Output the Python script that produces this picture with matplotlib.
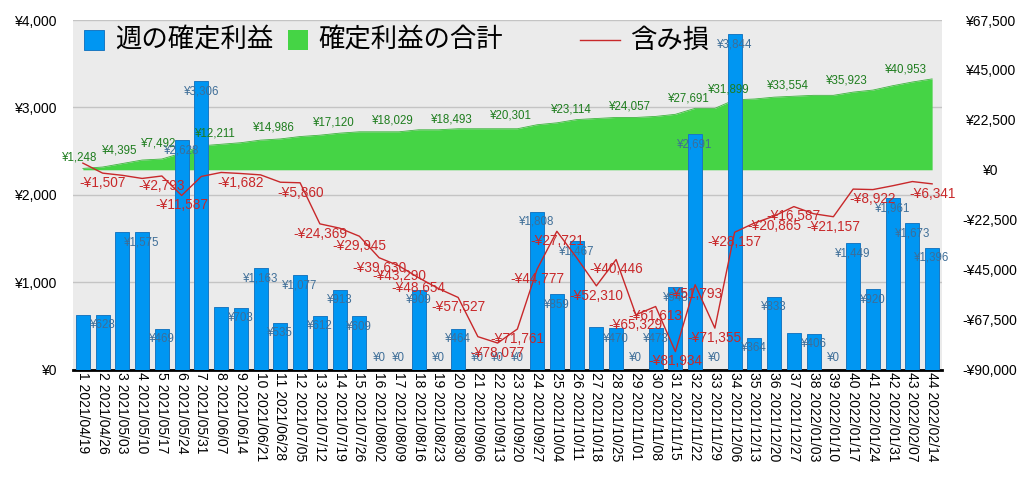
import matplotlib.pyplot as plt
import matplotlib.patches as mpatches
import matplotlib.lines as mlines
import numpy as np

plt.rcParams['font.family'] = ['Liberation Sans', 'Noto Sans CJK JP', 'DejaVu Sans']

# weekly data
dates = ["2021/04/19", "2021/04/26", "2021/05/03", "2021/05/10", "2021/05/17",
         "2021/05/24", "2021/05/31", "2021/06/07", "2021/06/14", "2021/06/21",
         "2021/06/28", "2021/07/05", "2021/07/12", "2021/07/19", "2021/07/26",
         "2021/08/02", "2021/08/09", "2021/08/16", "2021/08/23", "2021/08/30",
         "2021/09/06", "2021/09/13", "2021/09/20", "2021/09/27", "2021/10/04",
         "2021/10/11", "2021/10/18", "2021/10/25", "2021/11/01", "2021/11/08",
         "2021/11/15", "2021/11/22", "2021/11/29", "2021/12/06", "2021/12/13",
         "2021/12/20", "2021/12/27", "2022/01/03", "2022/01/10", "2022/01/17",
         "2022/01/24", "2022/01/31", "2022/02/07", "2022/02/14"]

weekly = [620, 628, 1572, 1575, 469, 2628, 3306, 710, 703, 1163,
          535, 1077, 612, 913, 609, 0, 0, 909, 0, 464,
          0, 0, 0, 1808, 859, 1467, 487, 470, 0, 473,
          943, 2691, 0, 3844, 364, 833, 416, 406, 0, 1449,
          920, 1961, 1673, 1396]

total = [620, 1248, 2820, 4395, 4864, 7492, 10798, 11508, 12211, 13374,
         13909, 14986, 15598, 16511, 17120, 17120, 17120, 18029, 18029, 18493,
         18493, 18493, 18493, 20301, 21160, 22627, 23114, 23584, 23584, 24057,
         25000, 27691, 27691, 31535, 31899, 32732, 33148, 33554, 33554, 35003,
         35923, 37884, 39557, 40953]

unreal = [3000, -1507, -2500, -3900, -2793, -11587, -3000, -1200, -1682, -2300,
          -5600, -5860, -24369, -26300, -29945, -39630, -43290, -48654, -53500, -57527,
          -75200, -78077, -71761, -44777, -27721, -39600, -52310, -40446, -65329, -61613,
          -81934, -51793, -71355, -28157, -24000, -20865, -16587, -19800, -21157, -8700,
          -8922, -7200, -5300, -6341]

# which points carry a value label in the original
bar_label_weeks = [w for w in range(1, 45) if w not in (1, 3, 8, 27, 37)]
total_label_weeks = [2, 4, 6, 9, 12, 15, 18, 21, 24, 27, 30, 33, 35, 38, 41, 44]
unreal_label_weeks = [2, 5, 6, 9, 12, 13, 15, 16, 17, 18, 20, 22, 23, 24, 25, 27, 28,
                      29, 30, 31, 32, 33, 34, 36, 37, 39, 41, 44]

x = np.arange(1, 45)
xlabels = ["%d %s" % (i, d) for i, d in zip(x, dates)]

blue = "#0096f2"
green = "#45d445"
red = "#c8282a"

fig = plt.figure(figsize=(10.24, 4.79), dpi=100)
ax = fig.add_axes([73 / 1024, 1 - 369.5 / 479, 869 / 1024, 349.5 / 479])
ax2 = ax.twinx()

ax.set_facecolor("#ebebeb")
ax.set_xlim(0.5, 44.5)
ax.set_ylim(0, 4000)
ax2.set_ylim(-90000, 67500)

# bars on the left axis, area + line on the right axis; bars must sit over the area
ax.set_zorder(1)
ax2.set_zorder(2)
ax2.patch.set_visible(False)

ax.yaxis.grid(True, color="#c4c4c4", linewidth=1)
ax.set_axisbelow(True)

ax2.fill_between(x, 0, total, color=green, linewidth=0, zorder=1)
ax2.plot(x, total, color="#3cb43c", linewidth=0.6, zorder=1)
bars = ax2.bar(x, np.array(weekly) * (157500 / 4000), width=0.7,
               bottom=-90000, color=blue, edgecolor="#1a78c2", linewidth=0.7, zorder=2)
ax2.plot(x, unreal, color=red, linewidth=1.0, zorder=5)

scale = 157500 / 4000
for w in bar_label_weeks:
    v = weekly[w - 1]
    top = -90000 + v * scale
    if v == 0:
        ax2.annotate("¥{:,}".format(v), (w, top), xytext=(0, 8), textcoords="offset points",
                     ha="center", va="center", fontsize=8.3, color="#3e6e98", zorder=4)
    else:
        ax2.annotate("¥{:,}".format(v), (w, top), xytext=(0, -7.5), textcoords="offset points",
                     ha="center", va="center", fontsize=8.3, color="#3e6e98", zorder=4)

for w in total_label_weeks:
    v = total[w - 1]
    ax2.annotate("¥{:,}".format(v), (w, v), xytext=(-3.5, 2.5), textcoords="offset points",
                 ha="right", va="bottom", fontsize=8.3, color="#1e7d1e", zorder=3)

for w in unreal_label_weeks:
    v = unreal[w - 1]
    ax2.annotate("-¥{:,}".format(-v), (w, v), xytext=(0, -2), textcoords="offset points",
                 ha="center", va="top", fontsize=9.8, color=red, zorder=6)

# ticks
ax.set_xticks(x)
ax.set_xticklabels(xlabels, rotation=270, fontsize=10, ha="center", va="top")
ax.set_yticks([0, 1000, 2000, 3000, 4000])
ax.set_yticklabels(["¥{:,}".format(v) for v in [0, 1000, 2000, 3000, 4000]], fontsize=10)
rticks = [-90000, -67500, -45000, -22500, 0, 22500, 45000, 67500]
ax2.set_yticks(rticks)
ax2.set_yticklabels([("-¥{:,}".format(-v) if v < 0 else "¥{:,}".format(v)) for v in rticks],
                    fontsize=10, ha="center")
ax.tick_params(axis="both", length=0)
ax.tick_params(axis="y", pad=12)
ax.tick_params(axis="x", pad=2)
ax2.tick_params(axis="y", length=0, pad=34.5)

for a in (ax, ax2):
    for s in ("left", "right", "top"):
        a.spines[s].set_visible(False)
ax.spines["bottom"].set_linewidth(2)
ax.spines["bottom"].set_color("black")
ax2.spines["bottom"].set_visible(False)

# legend drawn across the top of the plot
W, H = 1024, 479
def fx(px):
    return px / W
def fy(py):
    return 1 - py / H

fig.patches.append(mpatches.Rectangle((fx(84), fy(50)), 20 / W, 20 / H, transform=fig.transFigure,
                                      facecolor=blue, edgecolor="#1a78c2", linewidth=0.7, zorder=10))
fig.text(fx(115), fy(40), "週の確定利益", fontsize=19, va="center", ha="left",
         family=["Noto Sans CJK JP"], zorder=10)
fig.patches.append(mpatches.Rectangle((fx(288), fy(50)), 20 / W, 20 / H, transform=fig.transFigure,
                                      facecolor=green, edgecolor="none", zorder=10))
fig.text(fx(318), fy(40), "確定利益の合計", fontsize=19, va="center", ha="left",
         family=["Noto Sans CJK JP"], zorder=10)
fig.lines.append(mlines.Line2D([fx(580), fx(620)], [fy(40), fy(40)], transform=fig.transFigure,
                               color=red, linewidth=1.0, zorder=10))
fig.text(fx(630), fy(40), "含み損", fontsize=19, va="center", ha="left",
         family=["Noto Sans CJK JP"], zorder=10)

fig.savefig("out.png", dpi=100)
